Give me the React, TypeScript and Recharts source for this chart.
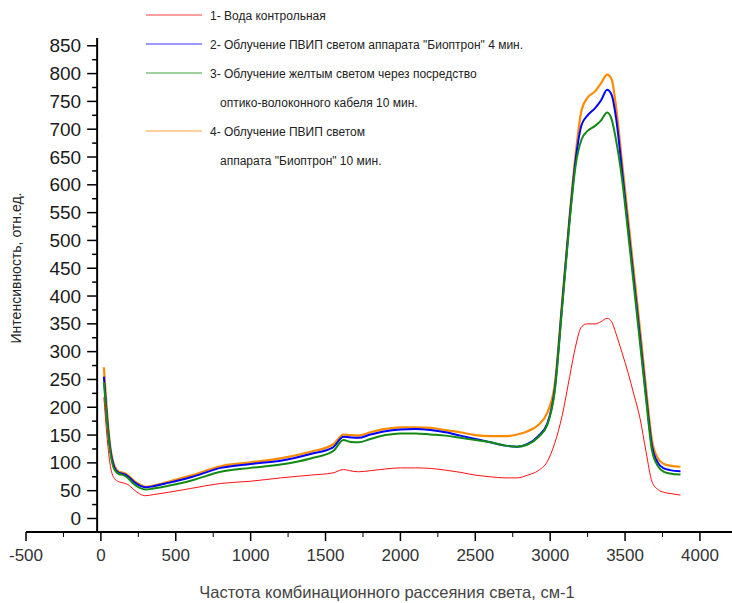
import React from 'react';
import { LineChart, Line, XAxis, YAxis, ReferenceLine, Legend } from 'recharts';

// Raman frequency, cm-1
const WAVENUMBER = [
  20, 40, 60, 90, 120, 150, 180, 220, 260, 300,
  350, 450, 600, 800, 1000, 1200, 1400, 1550, 1620, 1660,
  1720, 1800, 1900, 2000, 2100, 2200, 2300, 2400, 2500, 2600,
  2700, 2780, 2850, 2920, 2980, 3030, 3080, 3130, 3170, 3210,
  3250, 3300, 3340, 3380, 3410, 3440, 3480, 3520, 3560, 3600,
  3640, 3680, 3720, 3760, 3800, 3870,
];

// 1 - control water
const WATER = [
  218, 150, 100, 72, 66, 64, 61, 52, 44, 41,
  43, 47, 54, 63, 67, 73, 78, 82, 88, 86,
  84, 86, 89, 91, 91, 90, 87, 83, 78, 75,
  73, 73, 78, 86, 102, 135, 185, 255, 310, 345,
  350, 350, 354, 360, 354, 332, 298, 262, 222, 180,
  120, 66, 52, 47, 45, 42,
];

// 2 - PVIP light, Bioptron, 4 min
const PVIP_4 = [
  255, 185, 130, 92, 82, 80, 76, 66, 59, 56,
  58, 64, 74, 91, 98, 104, 116, 128, 147, 146,
  145, 151, 157, 160, 161, 159, 155, 149, 143, 137,
  131, 129, 134, 148, 170, 232, 385, 540, 645, 708,
  725, 738, 752, 771, 762, 720, 625, 525, 425, 325,
  222, 130, 100, 90, 87, 85,
];

// 3 - yellow light through fibre cable, 10 min
const YELLOW_10 = [
  245, 180, 125, 88, 80, 78, 73, 62, 55, 52,
  54, 59, 68, 84, 91, 97, 108, 121, 141, 138,
  137, 143, 150, 153, 153, 151, 149, 145, 141, 137,
  131, 129, 133, 146, 168, 228, 380, 535, 635, 682,
  697, 706, 716, 730, 718, 680, 610, 515, 415, 315,
  215, 122, 94, 84, 81, 79,
];

// 4 - PVIP light, Bioptron, 10 min
const PVIP_10 = [
  272, 195, 135, 95, 84, 82, 78, 68, 61, 57,
  59, 66, 77, 94, 101, 108, 120, 133, 151, 150,
  149, 155, 161, 164, 164, 163, 159, 155, 150, 148,
  148, 151, 157, 168, 190, 240, 390, 545, 655, 735,
  757, 768, 783, 798, 790, 740, 640, 540, 440, 340,
  235, 140, 108, 98, 95, 93,
];

const X_TICKS = [
  -500, -250, 0, 250, 500, 750, 1000, 1250, 1500, 1750, 2000,
  2250, 2500, 2750, 3000, 3250, 3500, 3750, 4000,
];
const Y_TICKS = Array.from({ length: 35 }, (_, i) => i * 25);

const X_TITLE = 'Частота комбинационного рассеяния света, см-1';
const Y_TITLE = 'Интенсивность, отн.ед.';

const SERIES = [
  { key: 'water', lines: ['1- Вода контрольная'], color: '#ff1010', width: 1 },
  { key: 'pvip10', lines: ['4- Облучение ПВИП светом', 'аппарата "Биоптрон" 10 мин.'], color: '#ff8a00', width: 2.2 },
  { key: 'pvip4', lines: ['2- Облучение ПВИП светом аппарата "Биоптрон" 4 мин.'], color: '#0000ff', width: 2 },
  { key: 'yellow', lines: ['3- Облучение желтым светом через посредство', 'оптико-волоконного кабеля 10 мин.'], color: '#138a13', width: 2 },
];
const LEGEND_ORDER = ['water', 'pvip4', 'yellow', 'pvip10'];

const data = WAVENUMBER.map((x, i) => ({
  x,
  water: WATER[i],
  pvip4: PVIP_4[i],
  yellow: YELLOW_10[i],
  pvip10: PVIP_10[i],
}));

const FONT = '"Liberation Sans", Arial, sans-serif';
const W = 732;
const H = 603;
const LEFT = 25;
const Y_AXIS_W = 1;
const TOP = 38;
const X_AXIS_H = 71;
const BOTTOM = H - X_AXIS_H;
const PLOT_LEFT = LEFT + Y_AXIS_W;
const X_DOMAIN: [number, number] = [-500, 4214];
const Y_DOMAIN: [number, number] = [-24.3, 864];
const Y_AXIS_AT = -25;
const AXIS_X = PLOT_LEFT + ((W - PLOT_LEFT) * (Y_AXIS_AT - X_DOMAIN[0])) / (X_DOMAIN[1] - X_DOMAIN[0]);

const YTick = (props: any) => {
  const { y, payload } = props;
  const v = payload.value;
  const major = v % 50 === 0;
  return (
    <g>
      <line x1={AXIS_X - (major ? 10 : 5)} x2={AXIS_X} y1={y} y2={y} stroke="#000" strokeWidth={1.5} />
      {major && (
        <text x={AXIS_X - 16} y={y} textAnchor="end" dominantBaseline="central"
          fontSize={19} fontFamily={FONT} fill="#1a1a1a">
          {v}
        </text>
      )}
    </g>
  );
};

const XTick = (props: any) => {
  const { x, payload } = props;
  const v = payload.value;
  const major = v % 500 === 0;
  return (
    <g>
      <line x1={x} x2={x} y1={BOTTOM} y2={BOTTOM + (major ? 9 : 5)} stroke="#000" strokeWidth={major ? 1.5 : 1} />
      {major && (
        <text x={x} y={BOTTOM + 23} textAnchor="middle" dominantBaseline="central"
          fontSize={17} fontFamily={FONT} fill="#333">
          {v}
        </text>
      )}
    </g>
  );
};

const renderLegend = () => (
  <div style={{ fontFamily: FONT, fontSize: 12, color: '#222' }}>
    {LEGEND_ORDER.map((k) => {
      const s = SERIES.find((d) => d.key === k)!;
      return (
        <div key={k}>
          {s.lines.map((t, j) => (
            <div key={j} style={{ height: 29, display: 'flex', alignItems: 'center', whiteSpace: 'nowrap' }}>
              <svg width={56} height={4} style={{ marginRight: 8, flex: 'none' }}>
                {j === 0 && <line x1={0} x2={56} y1={1} y2={1} stroke={s.color} strokeWidth={1} strokeOpacity={0.8} />}
              </svg>
              <span style={{ paddingLeft: j === 0 ? 0 : 10 }}>{t}</span>
            </div>
          ))}
        </div>
      );
    })}
  </div>
);

export default function App() {
  return (
    <div style={{ position: 'absolute', left: 0, top: 0, width: W, height: H, background: '#fff' }}>
      <LineChart width={W} height={H} data={data} margin={{ top: TOP, right: 0, bottom: 0, left: LEFT }}>
        <XAxis
          type="number"
          dataKey="x"
          domain={X_DOMAIN}
          ticks={X_TICKS}
          interval={0}
          height={X_AXIS_H}
          allowDataOverflow
          tick={<XTick />}
          tickLine={false}
          axisLine={{ stroke: '#000', strokeWidth: 2 }}
          label={{
            content: () => (
              <text x={387} y={592} textAnchor="middle" dominantBaseline="central"
                fontSize={16.5} fontFamily={FONT} fill="#444">
                {X_TITLE}
              </text>
            ),
          }}
        />
        <YAxis
          type="number"
          domain={Y_DOMAIN}
          ticks={Y_TICKS}
          interval={0}
          width={Y_AXIS_W}
          allowDataOverflow
          tick={<YTick />}
          tickLine={false}
          axisLine={false}
          label={{
            content: () => (
              <text x={16} y={268} transform="rotate(-90 16 268)" textAnchor="middle"
                dominantBaseline="central" fontSize={14} fontFamily={FONT} fill="#222">
                {Y_TITLE}
              </text>
            ),
          }}
        />
        <ReferenceLine x={Y_AXIS_AT} stroke="#000" strokeWidth={2} />
        <Legend
          layout="vertical"
          align="center"
          verticalAlign="middle"
          content={renderLegend}
          wrapperStyle={{ left: 146, top: 1, width: 440 }}
        />
        {SERIES.map((s) => (
          <Line
            key={s.key}
            type="monotone"
            dataKey={s.key}
            stroke={s.color}
            strokeWidth={s.width}
            dot={false}
            activeDot={false}
            isAnimationActive={false}
          />
        ))}
      </LineChart>
    </div>
  );
}
